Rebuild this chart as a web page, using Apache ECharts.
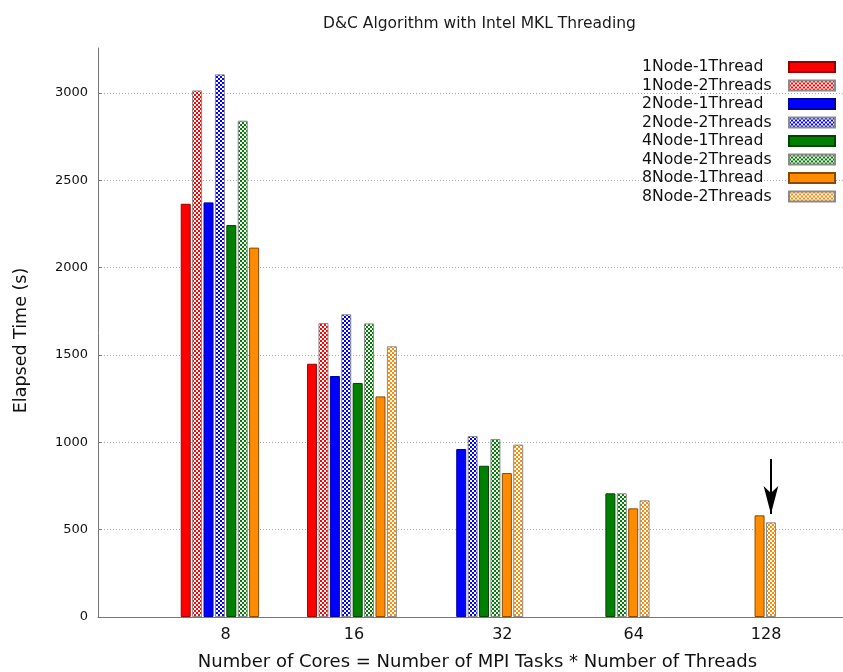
<!DOCTYPE html>
<html>
<head>
<meta charset="utf-8">
<title>D&amp;C Algorithm with Intel MKL Threading</title>
<script src="https://cdn.jsdelivr.net/npm/echarts@6/dist/echarts.min.js"></script>
<style>
  html, body { margin: 0; padding: 0; background: #fff; }
  #chart { width: 843px; height: 672px; }
</style>
</head>
<body>
<div id="chart"></div>
<script>
// Core counts on the x axis
const categories = ['8', '16', '32', '64', '128'];

// Elapsed time (s) per configuration; null where the run was not made
const node1Thread1  = [2366, 1450, null, null, null];
const node1Thread2  = [3015, 1683, null, null, null];
const node2Thread1  = [2374, 1380, 962, null, null];
const node2Thread2  = [3107, 1733, 1036, null, null];
const node4Thread1  = [2244, 1340, 866, 708, null];
const node4Thread2  = [2842, 1681, 1019, 708, null];
const node8Thread1  = [2115, 1263, 824, 622, 582];
const node8Thread2  = [null, 1550, 987, 668, 542];

const seriesNames = [
  '1Node-1Thread', '1Node-2Threads', '2Node-1Thread', '2Node-2Threads',
  '4Node-1Thread', '4Node-2Threads', '8Node-1Thread', '8Node-2Threads'
];
const seriesValues = [
  node1Thread1, node1Thread2, node2Thread1, node2Thread2,
  node4Thread1, node4Thread2, node8Thread1, node8Thread2
];

// y-axis tick labels
const yTicks = [0, 500, 1000, 1500, 2000, 2500, 3000];

// Highlighted run: arrow above the 8Node-2Threads bar at 128 cores
const arrowCategory = '128';
const arrowFrom = 905;
const arrowTo = 590;

// Fill colours: base colour and outline for each node count
const palette = [
  { fill: '#ff0000', edge: '#9a0000' },
  { fill: '#0000ff', edge: '#00009a' },
  { fill: '#008000', edge: '#004400' },
  { fill: '#ff8c00', edge: '#8a4a00' }
];

// Horizontal nudge (px) of each core-count label under its cluster
const labelNudge = [0, 2, 24, 29, 35];

function checker(color) {
  const c = document.createElement('canvas');
  c.width = 4; c.height = 4;
  const ctx = c.getContext('2d');
  ctx.fillStyle = '#ffffff';
  ctx.fillRect(0, 0, 4, 4);
  ctx.fillStyle = color;
  ctx.fillRect(0, 0, 2, 2);
  ctx.fillRect(2, 2, 2, 2);
  return c;
}

const series = seriesNames.map((name, i) => {
  const p = palette[Math.floor(i / 2)];
  const hatched = i % 2 === 1;
  const data = [];
  seriesValues[i].forEach((v, k) => { if (v !== null) data.push([k, v]); });
  const s = {
    name: name,
    type: 'bar',
    barWidth: 10,
    barGap: '14%',
    data: data,
    itemStyle: hatched
      ? { color: { image: checker(p.fill), repeat: 'repeat' }, borderColor: '#8a8a8a', borderWidth: 1 }
      : { color: p.fill, borderColor: p.edge, borderWidth: 1 },
    emphasis: { disabled: true },
    animation: false
  };
  if (i === 7) {
    // marker coords on a bar series are placed at this series' bar centre
    const k = categories.indexOf(arrowCategory);
    s.markLine = {
      silent: true,
      symbol: ['none', 'arrow'],
      symbolSize: [11, 28],
      label: { show: false },
      lineStyle: { color: '#000', width: 2, type: 'solid' },
      data: [[ { coord: [k, arrowFrom] }, { coord: [k, arrowTo] } ]]
    };
  }
  return s;
});

const chart = echarts.init(document.getElementById('chart'), null, { renderer: 'canvas' });
const FONT = 'DejaVu Sans';

const richLabels = {};
labelNudge.forEach((n, i) => {
  richLabels['c' + i] = {
    fontFamily: FONT, fontSize: 16, color: '#111',
    padding: n >= 0 ? [0, 0, 0, 2 * n] : [0, -2 * n, 0, 0]
  };
});

chart.setOption({
  animation: false,
  backgroundColor: '#ffffff',
  textStyle: { fontFamily: FONT },
  title: {
    text: 'D&C Algorithm with Intel MKL Threading',
    left: 318,
    top: 11,
    textStyle: { fontFamily: FONT, fontSize: 15.5, fontWeight: 'normal', color: '#1a1a1a' }
  },
  grid: { left: 98, right: 0, top: 48, bottom: 55, containLabel: false, outerBoundsMode: 'none' },
  legend: {
    orient: 'vertical',
    right: 2,
    top: 54,
    align: 'right',
    icon: 'rect',
    itemWidth: 46,
    itemHeight: 10,
    itemGap: 2.5,
    selectedMode: false,
    formatter: name => '{t|' + name + '}',
    textStyle: {
      fontFamily: FONT, fontSize: 15.7, color: '#111', lineHeight: 16,
      rich: { t: { fontFamily: FONT, fontSize: 15.7, color: '#111', width: 142, align: 'left', lineHeight: 16 } }
    },
    data: seriesNames
  },
  xAxis: {
    type: 'value',
    min: -1.01,
    max: 4.886,
    name: 'Number of Cores = Number of MPI Tasks * Number of Threads',
    nameLocation: 'middle',
    nameGap: 36,
    nameTextStyle: { fontFamily: FONT, fontSize: 18, color: '#111', padding: [0, 0, 0, 14] },
    axisLine: { show: true, onZero: false, lineStyle: { color: '#777', width: 1 } },
    axisTick: { show: false },
    splitLine: { show: false },
    axisLabel: {
      customValues: categories.map((c, i) => i),
      formatter: v => {
        const i = Math.round(v);
        return categories[i] ? '{c' + i + '|' + categories[i] + '}' : '';
      },
      rich: richLabels,
      fontFamily: FONT, fontSize: 16, color: '#111', margin: 10
    }
  },
  yAxis: {
    type: 'value',
    min: 0,
    max: 3258,
    name: 'Elapsed Time (s)',
    nameLocation: 'middle',
    nameGap: 68,
    nameTextStyle: { fontFamily: FONT, fontSize: 17.5, color: '#111', padding: [0, 16, 0, 0] },
    axisLine: { show: true, onZero: false, lineStyle: { color: '#777', width: 1 } },
    axisTick: { show: true, inside: true, length: 4, customValues: yTicks, lineStyle: { color: '#777' } },
    splitLine: { show: true, lineStyle: { color: '#aaa', type: [1, 2], width: 1 } },
    axisLabel: {
      customValues: yTicks,
      formatter: v => String(v),
      fontFamily: FONT, fontSize: 13, color: '#111', margin: 10
    }
  },
  series: series
});
</script>
</body>
</html>
